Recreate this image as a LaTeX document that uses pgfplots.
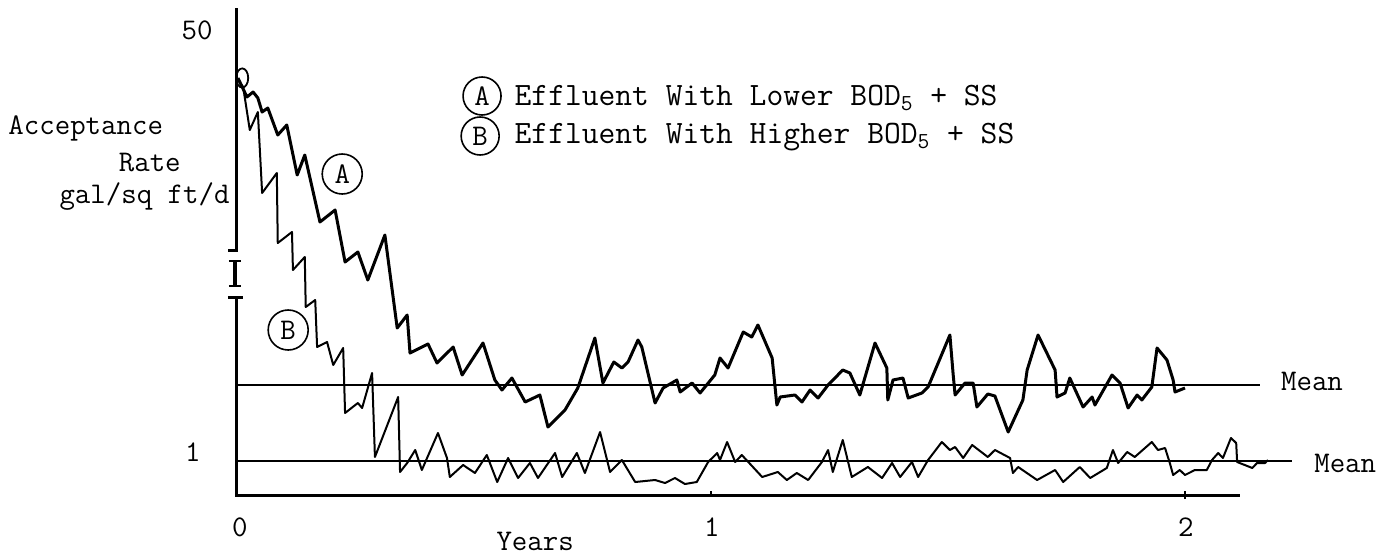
\documentclass[border=0pt]{standalone}
\usepackage{pgfplots}
\pgfplotsset{compat=1.18}
\newcommand\tw{\ttfamily\fontsize{15}{18}\selectfont}
\newcommand\tl{\ttfamily\fontsize{16.3}{19}\selectfont}
\begin{document}
\begin{tikzpicture}
\begin{axis}[
  width=698.5pt, height=279.5pt, scale only axis,
  xmin=-0.5, xmax=2.4473, ymin=-66, ymax=493,
  axis line style={draw=none}, ticks=none,
  clip=false,
]
\path (rel axis cs:0,0) rectangle (rel axis cs:1,1);
% axes with break
\draw[line width=1.5pt] (axis cs:0,485) -- (axis cs:0,243) -- (axis cs:-0.019,243);
\draw[line width=1.4pt] (axis cs:-0.017,232) -- (axis cs:0.008,232);
\draw[line width=1.8pt] (axis cs:-0.004,232) -- (axis cs:-0.004,207);
\draw[line width=1.4pt] (axis cs:-0.017,207) -- (axis cs:0.008,207);
\draw[line width=1.5pt] (axis cs:-0.019,196) -- (axis cs:0.013,196);
\draw[line width=1.5pt] (axis cs:0,196) -- (axis cs:0,-2) -- (axis cs:2.116,-2);
\draw[line width=1pt] (axis cs:1,-2) -- (axis cs:1,2);
\draw[line width=1pt] (axis cs:2,-6) -- (axis cs:2,2);
% mean lines
\addplot[black, line width=0.8pt] coordinates {(0,108) (2.158,108)};
\addplot[black, line width=0.8pt] coordinates {(0,32) (2.226,32)};
% curve A
\addplot[black, line width=1.5pt, line join=round] coordinates {
(0.002,415) (0.021,396) (0.034,401) (0.044,395) (0.053,381) (0.065,385)
(0.086,358) (0.105,368) (0.127,318) (0.143,338) (0.175,271) (0.207,283)
(0.228,231) (0.255,241) (0.276,213) (0.312,258) (0.338,165) (0.359,178)
(0.365,140) (0.403,149) (0.422,130) (0.456,146) (0.475,118) (0.519,150)
(0.544,113) (0.559,103) (0.580,115) (0.608,91) (0.639,98) (0.656,66)
(0.692,83) (0.719,105) (0.755,155) (0.772,110) (0.795,131) (0.812,125)
(0.825,131) (0.846,153) (0.854,146) (0.882,90) (0.899,105) (0.928,113)
(0.935,101) (0.960,110) (0.977,100) (1.008,118) (1.019,135) (1.036,125)
(1.068,161) (1.086,156) (1.099,168) (1.129,135) (1.139,88) (1.146,96)
(1.177,98) (1.192,91) (1.209,103) (1.226,95) (1.247,108) (1.278,123)
(1.293,120) (1.314,98) (1.346,150) (1.371,125) (1.373,93) (1.384,113)
(1.405,115) (1.416,95) (1.445,100) (1.458,106) (1.504,158) (1.511,118)
(1.515,98) (1.536,110) (1.553,110) (1.561,86) (1.584,99) (1.599,97)
(1.627,61) (1.658,93) (1.667,123) (1.690,158) (1.726,123) (1.730,96)
(1.747,100) (1.757,115) (1.785,86) (1.804,96) (1.810,88) (1.846,118)
(1.863,110) (1.880,85) (1.899,98) (1.909,93) (1.930,106) (1.941,145)
(1.962,133) (1.975,113) (1.979,101) (2.000,105)
};
% curve B
\addplot[black, line width=1pt, line join=round] coordinates {
(0.002,413) (0.013,406) (0.027,363) (0.044,381) (0.053,300) (0.084,320)
(0.086,250) (0.116,261) (0.118,223) (0.143,236) (0.145,186) (0.165,193)
(0.169,146) (0.190,151) (0.203,128) (0.224,145) (0.228,80) (0.255,90)
(0.264,85) (0.285,120) (0.291,36) (0.340,96) (0.344,21) (0.359,30)
(0.376,43) (0.390,23) (0.401,35) (0.424,60) (0.443,35) (0.449,16)
(0.477,28) (0.502,20) (0.527,38) (0.549,11) (0.572,35) (0.593,15)
(0.618,30) (0.635,15) (0.671,40) (0.686,16) (0.717,40) (0.734,20)
(0.766,61) (0.787,21) (0.812,33) (0.840,11) (0.882,13) (0.903,10)
(0.924,15) (0.945,9) (0.970,11) (0.994,31) (1.013,40) (1.019,33)
(1.034,51) (1.051,31) (1.065,38) (1.108,16) (1.141,21) (1.160,13)
(1.181,20) (1.205,13) (1.234,31) (1.247,43) (1.257,21) (1.278,53)
(1.297,16) (1.331,26) (1.361,15) (1.382,30) (1.399,16) (1.424,31)
(1.437,16) (1.458,33) (1.487,51) (1.504,43) (1.515,46) (1.532,35)
(1.551,48) (1.584,36) (1.599,43) (1.631,35) (1.637,20) (1.648,26)
(1.688,13) (1.726,23) (1.743,11) (1.778,26) (1.800,15) (1.835,25)
(1.848,43) (1.859,30) (1.878,41) (1.894,36) (1.930,51) (1.943,43)
(1.958,45) (1.968,30) (1.975,18) (1.989,23) (2.000,18) (2.021,23)
(2.046,23) (2.057,33) (2.070,40) (2.080,35) (2.097,55) (2.108,50)
(2.110,31) (2.142,25) (2.152,30) (2.169,30) (2.175,33)
};
% start marker (loop at the start of the curves)
\addplot[black, line width=0.9pt, only marks, mark=o, mark size=3pt, mark options={yscale=1.6}] coordinates {(0.011,415)};
% circled curve labels
\node[draw, circle, line width=0.8pt, minimum size=20pt, inner sep=0, font=\tw] at (axis cs:0.222,319) {A};
\node[draw, circle, line width=0.8pt, minimum size=20pt, inner sep=0, font=\tw] at (axis cs:0.108,163) {B};
% legend
\node[draw, circle, line width=0.8pt, minimum size=19pt, inner sep=0, font=\tw] at (axis cs:0.517,397) {A};
\node[draw, circle, line width=0.8pt, minimum size=19pt, inner sep=0, font=\tw] at (axis cs:0.513,357) {B};
\node[anchor=west, inner sep=0, font=\tl] at (axis cs:0.585,395) {Effluent With Lower BOD\textsubscript{5} + SS};
\node[anchor=west, inner sep=0, font=\tl] at (axis cs:0.585,356) {Effluent With Higher BOD\textsubscript{5} + SS};
% mean labels
\node[inner sep=0, font=\tw] at (axis cs:2.268,112) {Mean};
\node[inner sep=0, font=\tw] at (axis cs:2.338,30) {Mean};
% tick labels
\node[inner sep=0, font=\tw] at (axis cs:-0.084,463) {50};
\node[inner sep=0, font=\tw] at (axis cs:-0.093,41) {1};
\node[inner sep=0, font=\tw] at (axis cs:0.006,-34) {0};
\node[inner sep=0, font=\tw] at (axis cs:1.002,-34) {1};
\node[inner sep=0, font=\tw] at (axis cs:2.002,-34) {2};
\node[inner sep=0, font=\tw] at (axis cs:0.629,-48) {Years};
% y label
\node[anchor=west, inner sep=0, font=\tw] at (axis cs:-0.483,365) {Acceptance};
\node[inner sep=0, font=\tw] at (axis cs:-0.184,330) {Rate};
\node[anchor=east, inner sep=0, font=\tw] at (axis cs:-0.015,296) {gal/sq ft/d};
\end{axis}
\end{tikzpicture}
\end{document}
